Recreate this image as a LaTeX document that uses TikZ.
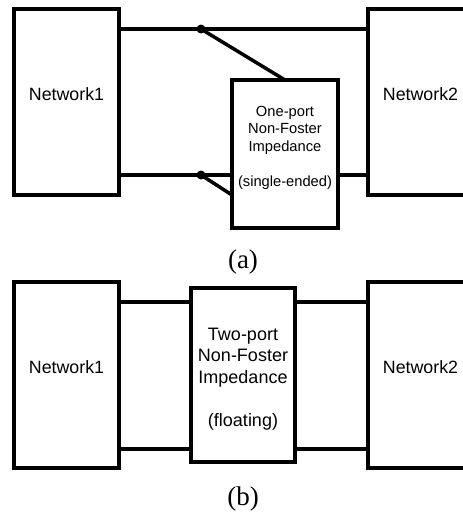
\documentclass[tikz,border=0pt]{standalone}
\usepackage{fontspec}
\setmainfont{Liberation Serif}
\setsansfont{Liberation Sans}
\usetikzlibrary{positioning}
\tikzset{
  netbox/.style={draw,line width=3.5pt,outer sep=0pt,inner sep=0pt,
    minimum width=105pt,minimum height=186pt},
  impbox/.style={draw,line width=3.5pt,outer sep=0pt,inner sep=0pt},
  nettext/.style={font=\sffamily\fontsize{17.8}{21}\selectfont},
  onetext/.style={align=center,font=\sffamily\fontsize{14.7}{17.5}\selectfont},
  twotext/.style={align=center,font=\sffamily\fontsize{18}{21.5}\selectfont},
  wire/.style={line width=3.5pt},
  junction/.style={circle,fill,inner sep=0pt,minimum size=9pt},
  caption/.style={font=\fontsize{27}{30}\selectfont}
}

\begin{document}
\begin{tikzpicture}[x=1pt,y=-1pt]
\useasboundingbox (0,0) rectangle (463,514);
\clip (0,0) rectangle (463,514);
% (a) single-ended
\node[netbox,label={[nettext,yshift=8pt]center:Network1}] (neta1) at (66.5,102) {};
\node[netbox,right=249pt of neta1,label={[nettext,yshift=8pt]center:Network2}] (neta2) {};
\node[impbox,minimum width=106pt,minimum height=148pt,
  label={[onetext,yshift=6.5pt]center:One-port\\Non-Foster\\Impedance\\[17.5pt](single-ended)}] (onea) at (285,154) {};
\coordinate (ta) at (201,29);
\coordinate (ba) at (201,175);
\draw[wire] (ta -| neta1.east) -- (ta -| neta2.west);
\draw[wire] (ba -| neta1.east) -- (ba -| onea.west);
\draw[wire] (ba -| onea.east) -- (ba -| neta2.west);
\draw[wire] (ta) -- (onea.north);
\draw[wire] (ba) -- (onea.west |- 0,195);
\node[junction] (jta) at (ta) {};
\node[junction] (jba) at (ba) {};
\node[caption] (capa) at (243,262) {(a)};
% (b) floating
\node[netbox,below=87pt of neta1,label={[nettext,yshift=8pt]center:Network1}] (netb1) {};
\node[netbox,below=87pt of neta2,label={[nettext,yshift=8pt]center:Network2}] (netb2) {};
\node[impbox,minimum width=104pt,minimum height=174pt,
  label={[twotext,yshift=-4pt]center:Two-port\\Non-Foster\\Impedance\\[21.5pt](floating)}] (twob) at (243,375) {};
\coordinate (tb) at (243,302);
\coordinate (bb) at (243,449);
\draw[wire] (tb -| netb1.east) -- (tb -| twob.west);
\draw[wire] (tb -| twob.east) -- (tb -| netb2.west);
\draw[wire] (bb -| netb1.east) -- (bb -| twob.west);
\draw[wire] (bb -| twob.east) -- (bb -| netb2.west);
\node[caption] (capb) at (243,499) {(b)};
\end{tikzpicture}
\end{document}
